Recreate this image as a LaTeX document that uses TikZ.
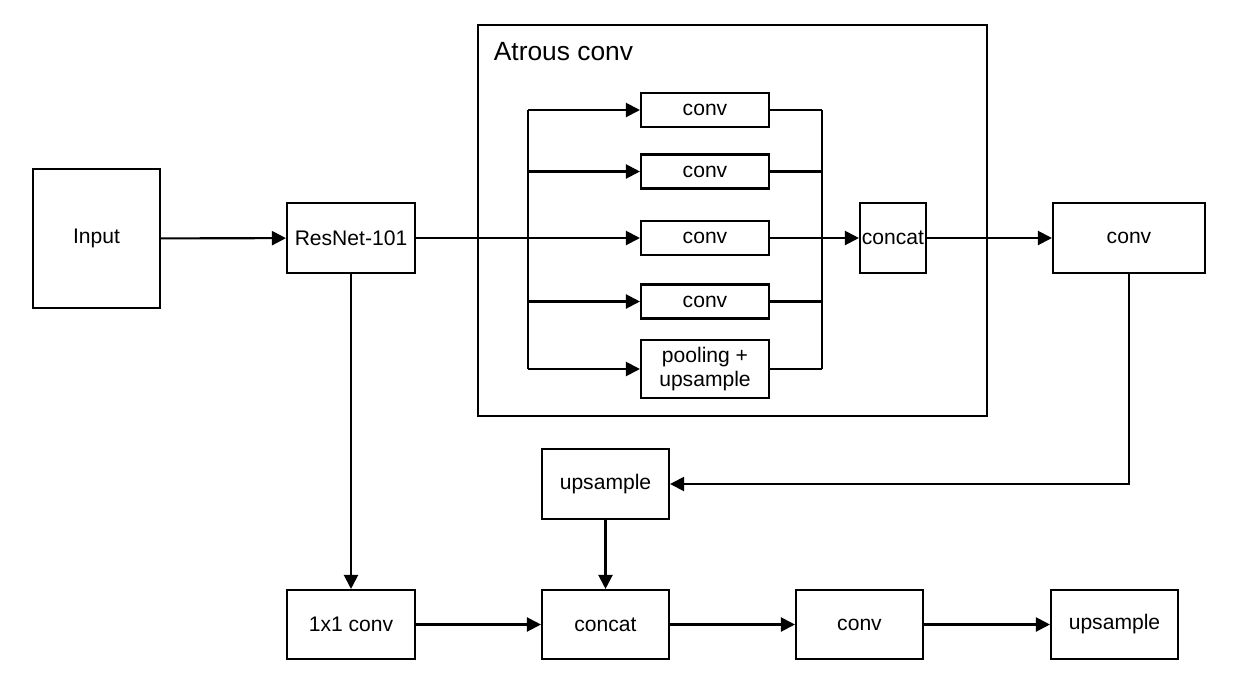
\documentclass[tikz,border=0pt]{standalone}
\usepackage{fontspec}
\setmainfont{Liberation Sans}
\usetikzlibrary{arrows.meta}
\begin{document}
\begin{tikzpicture}[x=0.02cm,y=-0.02cm,>={Triangle[length=2.8mm,width=2.8mm]},
 line width=1.2pt,font=\fontsize{12}{14}\selectfont,
 blk/.style={draw,line width=1.2pt,minimum width=2.56cm,minimum height=1.4cm,inner sep=1pt,align=center},
 thin/.style={blk,minimum height=0.68cm}]
 \useasboundingbox (0,0) rectangle (1259,684);
 % atrous frame
 \draw (478,25) rectangle (987,416);
 \node[anchor=west,font=\fontsize{15}{18}\selectfont] (atr) at (487,52) {Atrous conv};
 % top row
 \node[blk,minimum width=2.54cm,minimum height=2.78cm] (inp) at (96.5,238.5) {Input};
 \node[blk] (res) at (351,238) {ResNet-101};
 \node[thin] (c1) at (705,110) {conv};
 \node[thin] (c2) at (705,171.5) {conv};
 \node[thin] (c3) at (705,238) {conv};
 \node[thin] (c4) at (705,301.5) {conv};
 \node[blk,minimum height=1.16cm] (pool) at (705,369) {pooling +\\upsample};
 \node[blk,minimum width=1.32cm,inner sep=0pt] (cat1) at (893,238) {concat};
 \node[blk,minimum width=3.04cm] (cvr) at (1129,238) {conv};
 % lower rows
 \node[blk,minimum width=2.54cm] (up1) at (605.5,484) {upsample};
 \node[blk,minimum height=1.38cm] (one) at (351,624.5) {1x1 conv};
 \node[blk,minimum width=2.54cm,minimum height=1.38cm] (cat2) at (605.5,624.5) {concat};
 \node[blk,minimum width=2.54cm,minimum height=1.38cm] (cvb) at (859.5,624.5) {conv};
 \node[blk,minimum width=2.54cm,minimum height=1.38cm] (up2) at (1114.5,624.5) {upsample};
 \coordinate (lbus) at (528,238);
 \coordinate (rbus) at (822,238);
 % connectors
 \draw[->] (inp) -- (res);
 \draw (res.east) -- (lbus);
 \draw (lbus |- c1.west) -- (lbus |- pool.west);
 \foreach \n in {c1,c2,c3,c4,pool}
  \draw[->] (lbus |- \n.west) -- (\n.west);
 \foreach \n in {c1,c2,c4,pool}
  \draw (\n.east) -- (rbus |- \n.east);
 \draw (rbus |- c1.east) -- (rbus |- pool.east);
 \draw[->] (c3.east) -- (cat1.west);
 \draw[->] (cat1) -- (cvr);
 \draw[->] (cvr.south) |- (up1.east);
 \draw[->] (res) -- (one);
 \draw[->] (up1) -- (cat2);
 \draw[->] (one) -- (cat2);
 \draw[->] (cat2) -- (cvb);
 \draw[->] (cvb) -- (up2);
\end{tikzpicture}
\end{document}
